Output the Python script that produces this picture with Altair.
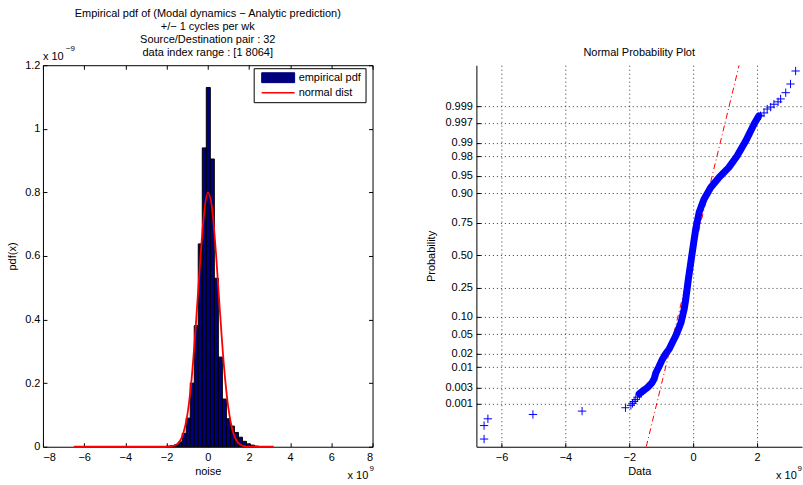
import altair as alt
import pandas as pd
from statistics import NormalDist

FONT = "Liberation Sans"
BLACK = "#000000"
NAVY = "#00007f"
RED = "#ff0000"
BLUE = "#0000ff"

# ---------------- Left panel: empirical pdf (x in 1e9 units, y in 1e-9 units)
bin_start = [-2.020, -1.825, -1.630, -1.435, -1.240, -1.045, -0.850, -0.655, -0.460, -0.265,
             -0.070, 0.125, 0.320, 0.515, 0.710, 0.905, 1.100, 1.295, 1.490, 1.685,
             1.880, 2.075, 2.270]
bin_height = [0.002, 0.003, 0.006, 0.015, 0.042, 0.090, 0.200, 0.381, 0.638, 0.940,
              1.130, 0.905, 0.530, 0.282, 0.150, 0.088, 0.065, 0.045, 0.030, 0.017,
              0.009, 0.005, 0.002]
BIN_W = 0.195

pdf_x = [-6.5, -2.0, -1.8, -1.6, -1.4, -1.2, -1.0, -0.8, -0.6, -0.4, -0.2, 0.0, 0.2,
         0.4, 0.6, 0.8, 1.0, 1.2, 1.4, 1.6, 1.8, 2.0, 3.2]
pdf_y = [0.0, 0.0003, 0.001, 0.004, 0.013, 0.039, 0.096, 0.202, 0.362, 0.553, 0.72,
         0.80, 0.755, 0.608, 0.418, 0.244, 0.122, 0.052, 0.019, 0.006, 0.0015, 0.0003, 0.0]

noise_ticks = [-8, -6, -4, -2, 0, 2, 4, 6, 8]
pdf_ticks = [0, 0.2, 0.4, 0.6, 0.8, 1.0, 1.2]
left_title = ["Empirical pdf of (Modal dynamics \u2212 Analytic prediction)",
              "+/\u2212 1 cycles per wk",
              "Source/Destination pair : 32",
              "data index range : [1 8064]"]
legend_labels = ["empirical pdf", "normal dist"]

# ---------------- Right panel: normal probability plot (x in 1e9 units, y = normal quantile)
band_x = [-1.69, -1.55, -1.43, -1.30, -1.22, -1.17, -1.08, -0.96, -0.85, -0.75, -0.64,
          -0.54, -0.46, -0.38, -0.28, -0.23, -0.15, -0.04, 0.08, 0.19, 0.34, 0.55, 0.81,
          1.12, 1.38, 1.65, 1.91, 2.06]
band_z = [-2.88, -2.81, -2.75, -2.66, -2.57, -2.45, -2.33, -2.16, -2.04, -1.95, -1.80,
          -1.67, -1.54, -1.40, -1.12, -0.91, -0.50, 0.00, 0.54, 0.89, 1.16, 1.40, 1.61,
          1.82, 2.06, 2.37, 2.72, 2.89]
mark_x = [-6.55, -6.55, -6.43, -5.02, -3.48, -2.12, -1.95, -1.90, -1.85, -1.80, -1.74,
          -1.68, -1.62, 2.11, 2.22, 2.32, 2.43, 2.53, 2.66, 2.74, 2.90, 3.05, 3.21]
mark_z = [-3.82, -3.54, -3.40, -3.31, -3.24, -3.17, -3.12, -3.08, -3.04, -3.00, -2.95,
          -2.90, -2.86, 2.89, 2.95, 3.03, 3.07, 3.13, 3.18, 3.24, 3.37, 3.55, 3.82]
fit_x = [-1.47, 1.44]
fit_z = [-3.98, 3.94]
data_ticks = [-6, -4, -2, 0, 2]
prob_values = [0.001, 0.003, 0.01, 0.02, 0.05, 0.10, 0.25, 0.50, 0.75, 0.90, 0.95,
               0.98, 0.99, 0.997, 0.999]
prob_labels = ["0.001", "0.003", "0.01", "0.02", "0.05", "0.10", "0.25", "0.50",
               "0.75", "0.90", "0.95", "0.98", "0.99", "0.997", "0.999"]

prob_z = [round(NormalDist().inv_cdf(p), 5) for p in prob_values]
label_expr = ("[" + ",".join("'%s'" % s for s in prob_labels) + "][indexof(["
              + ",".join(repr(z) for z in prob_z) + "], datum.value)]")

LW, LH = 330, 382
RW, RH = 326, 382
TICK = 4

hist_df = pd.DataFrame({"lo": bin_start, "h": bin_height, "series": legend_labels[0]})
pdf_df = pd.DataFrame({"x": pdf_x, "y": pdf_y, "series": legend_labels[1]})
band_df = pd.DataFrame({"x": band_x, "z": band_z})
mark_df = pd.DataFrame({"x": mark_x, "z": mark_z})
fit_df = pd.DataFrame({"x": fit_x, "z": fit_z})

RECT = "M-1,-0.9L5,-0.9L5,0.9L-1,0.9Z"
LINE = "M-1,0L5,0"
PLUS = "M-1,0L1,0M0,-1L0,1"


def label_axis(values, title, **kw):
    """Axis carrying labels and title only (ticks drawn inward by tick_axis)."""
    args = dict(values=values, title=title, ticks=False, format="~g", labelColor=BLACK)
    args.update(kw)
    return alt.Axis(**args)


def tick_axis(orient, values, offset):
    """Label-less axis moved across the plot so that its ticks point inward."""
    return alt.Axis(orient=orient, values=values, offset=offset, labels=False, domain=False,
                    grid=False, ticks=True, tickSize=TICK, tickColor=BLACK, title="")


def build(fancy_legend):
    xL = alt.Scale(domain=[-8, 8], nice=False, zero=False)
    yL = alt.Scale(domain=[0, 1.2], nice=False, zero=False)
    cscale = alt.Scale(domain=legend_labels, range=[NAVY, RED])

    leg_kw = dict(title=None, orient="none", legendX=211, legendY=3, padding=4,
                  fillColor="white", strokeColor=BLACK, cornerRadius=0,
                  labelFont=FONT, labelFontSize=11, labelColor=BLACK, rowPadding=1,
                  labelExpr="datum.label + '   '")
    if fancy_legend:
        leg_kw.update(
            symbolSize=121, labelOffset=26, symbolOffset=4,
            symbolType={"expr": "datum.value === 'normal dist' ? '%s' : '%s'" % (LINE, RECT)},
            symbolStrokeColor={"expr": "datum.value === 'normal dist' ? '%s' : '%s'" % (RED, BLACK)},
            symbolStrokeWidth={"expr": "datum.value === 'normal dist' ? 1.5 : 1"},
        )
    else:
        leg_kw.update(symbolType="square", symbolSize=100)
    legend = alt.Legend(**leg_kw)

    bars = alt.Chart(hist_df).transform_calculate(
        hi="datum.lo + %s" % BIN_W, base="0"
    ).mark_rect(stroke=BLACK).encode(
        x=alt.X("lo:Q", scale=xL, axis=label_axis(noise_ticks, "noise", orient="bottom",
                                                   labelPadding=5, titlePadding=3,
                                                   domain=False, grid=False)),
        x2="hi:Q",
        y=alt.Y("h:Q", scale=yL, axis=label_axis(pdf_ticks, "pdf(x)", orient="left",
                                                  labelPadding=3, titlePadding=7,
                                                  domain=False, grid=False)),
        y2="base:Q",
        color=alt.Color("series:N", scale=cscale, legend=legend),
    )

    curve = alt.Chart(pdf_df).mark_line(strokeWidth=1.8, interpolate="monotone").encode(
        x=alt.X("x:Q", scale=xL, axis=tick_axis("top", noise_ticks, -LH)),
        y=alt.Y("y:Q", scale=yL, axis=tick_axis("right", pdf_ticks, -LW)),
        color=alt.Color("series:N", scale=cscale, legend=None),
    )
    # invisible copy that only carries the mirrored inward ticks (top and right edges)
    mirror = alt.Chart(pdf_df).mark_line(opacity=0).encode(
        x=alt.X("x:Q", scale=xL, axis=tick_axis("bottom", noise_ticks, -LH)),
        y=alt.Y("y:Q", scale=yL, axis=tick_axis("left", pdf_ticks, -LW)),
    )

    def txt(s, x, y, size=11, align="left"):
        return alt.Chart(pd.DataFrame({"t": [s]})).mark_text(
            font=FONT, fontSize=size, color=BLACK, align=align, baseline="middle"
        ).encode(text="t:N", x=alt.value(x), y=alt.value(y))

    left = alt.layer(
        bars, curve, mirror,
        txt("x 10", 305, LH + 29), txt("9", 327, LH + 22, 8),
        txt("x 10", 0, -8), txt("\u22129", 23, -16, 8),
    ).resolve_axis(x="independent", y="independent").properties(
        width=LW, height=LH,
        view=alt.ViewBackground(stroke=BLACK, strokeWidth=1),
        title=alt.TitleParams(left_title, font=FONT, fontSize=11, fontWeight="normal",
                              color=BLACK, lineHeight=13, offset=-13, frame="group",
                              anchor="middle"),
    )

    xR = alt.Scale(domain=[-6.79, 3.41], nice=False, zero=False)
    yR = alt.Scale(domain=[-3.98, 3.94], nice=False, zero=False)

    grid_kw = dict(grid=True, gridDash=[1, 3], gridColor="#333333", gridWidth=1,
                   domain=True, domainColor=BLACK, domainWidth=1)

    fit = alt.Chart(fit_df).mark_line(color=RED, strokeWidth=1, strokeDash=[6, 3, 1, 3],
                                      clip=True).encode(
        x=alt.X("x:Q", scale=xR, axis=label_axis(data_ticks, "Data", orient="bottom",
                                                  labelPadding=5, titlePadding=3, **grid_kw)),
        y=alt.Y("z:Q", scale=yR, axis=label_axis(prob_z, "Probability", orient="left",
                                                  labelPadding=4, titlePadding=8,
                                                  labelExpr=label_expr, **grid_kw)),
    )
    band = alt.Chart(band_df).mark_line(color=BLUE, strokeWidth=7, clip=True,
                                        strokeCap="round", strokeJoin="round").encode(
        x=alt.X("x:Q", scale=xR, axis=tick_axis("top", data_ticks, -RH)),
        y=alt.Y("z:Q", scale=yR, axis=tick_axis("right", prob_z, -RW)))
    marks = alt.Chart(mark_df).mark_point(shape=PLUS, filled=False, size=70, color=BLUE,
                                          strokeWidth=1, opacity=1, clip=True).encode(
        x=alt.X("x:Q", scale=xR, axis=None), y=alt.Y("z:Q", scale=yR, axis=None))

    right = alt.layer(
        fit, band, marks,
        txt("x 10", 300, RH + 29), txt("9", RW, RH + 22, 8, align="right"),
    ).resolve_axis(x="independent", y="independent").properties(
        width=RW, height=RH,
        view=alt.ViewBackground(stroke="transparent"),
        title=alt.TitleParams("Normal Probability Plot", font=FONT, fontSize=11,
                              fontWeight="normal", color=BLACK, offset=7, frame="group",
                              anchor="middle"),
    )

    return alt.hconcat(left, right, spacing=104, bounds="flush").properties(
        padding={"left": 6, "top": 7, "right": 0, "bottom": 0},
        background="white",
    ).configure_axis(
        labelFont=FONT, labelFontSize=11, labelColor=BLACK,
        titleFont=FONT, titleFontSize=11, titleFontWeight="normal", titleColor=BLACK,
    )


try:
    chart = build(True)
    chart.save("out.html", embed_options={"renderer": "svg", "actions": False})
except Exception:
    chart = build(False)
    chart.save("out.html", embed_options={"renderer": "svg", "actions": False})
